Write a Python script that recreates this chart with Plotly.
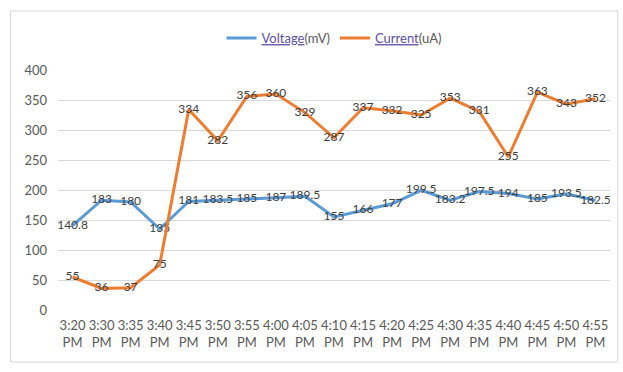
import plotly.graph_objects as go

# Sample times (x categories)
times = ["3:20", "3:30", "3:35", "3:40", "3:45", "3:50", "3:55", "4:00", "4:05", "4:10",
         "4:15", "4:20", "4:25", "4:30", "4:35", "4:40", "4:45", "4:50", "4:55"]
period = "PM"

# Measured series
voltage_mv = [140.8, 183, 180, 135, 181, 183.5, 185, 187, 189.5, 155,
              166, 177, 199.5, 183.2, 197.5, 194, 185, 193.5, 182.5]
current_ua = [55, 36, 37, 75, 334, 282, 356, 360, 329, 287,
              337, 332, 325, 353, 331, 255, 363, 343, 352]

y_ticks = [0, 50, 100, 150, 200, 250, 300, 350, 400]

BLUE = "#5B9BD5"
ORANGE = "#ED7D31"
GREY_TXT = "#595959"
LABEL_TXT = "#404040"
FONT = "Lato"


def fmt(v):
    return f"{v:g}"


fig = go.Figure()
fig.add_trace(go.Scatter(
    x=times, y=voltage_mv, name='<span style="color:#5b4fa8;text-decoration:underline">Voltage</span>(mV)',
    mode="lines+text", line=dict(color=BLUE, width=3),
    text=[fmt(v) for v in voltage_mv], textposition="middle center",
    textfont=dict(family=FONT, size=12, color=LABEL_TXT),
))
fig.add_trace(go.Scatter(
    x=times, y=current_ua, name='<span style="color:#5b4fa8;text-decoration:underline">Current</span>(uA)',
    mode="lines+text", line=dict(color=ORANGE, width=3),
    text=[fmt(v) for v in current_ua], textposition="middle center",
    textfont=dict(family=FONT, size=12, color=LABEL_TXT),
))

n = len(times)
fig.update_layout(
    width=623, height=372,
    margin=dict(l=57.5, r=12.5, t=70, b=62),
    paper_bgcolor="white", plot_bgcolor="white",
    font=dict(family=FONT, size=13, color=GREY_TXT),
    showlegend=True,
    legend=dict(orientation="h", x=0.5, xanchor="center", y=1.133, yanchor="middle",
                font=dict(family=FONT, size=13, color=GREY_TXT), itemwidth=30,
                bgcolor="rgba(0,0,0,0)"),
    xaxis=dict(type="category", categoryarray=times, range=[-0.5, n - 0.5],
               tickmode="array", tickvals=times,
               ticktext=[f"{t}<br>{period}" for t in times],
               showgrid=False, showline=False, zeroline=False, tickangle=0,
               ticks="", ticklabelstandoff=6,
               tickfont=dict(family=FONT, size=13, color=GREY_TXT)),
    yaxis=dict(range=[0, 400], tickmode="array", tickvals=y_ticks,
               showgrid=True, gridcolor="#d9d9d9", gridwidth=1,
               zeroline=False, showline=False, ticks="", ticklabelstandoff=10,
               tickfont=dict(family=FONT, size=13, color=GREY_TXT)),
)

# Chart frame
fig.add_shape(type="rect", xref="paper", yref="paper",
              x0=-0.086, x1=1.014, y0=-0.217, y1=1.246,
              line=dict(color="#d9d9d9", width=1), fillcolor="rgba(0,0,0,0)", layer="below")

fig.write_html("out.html")
